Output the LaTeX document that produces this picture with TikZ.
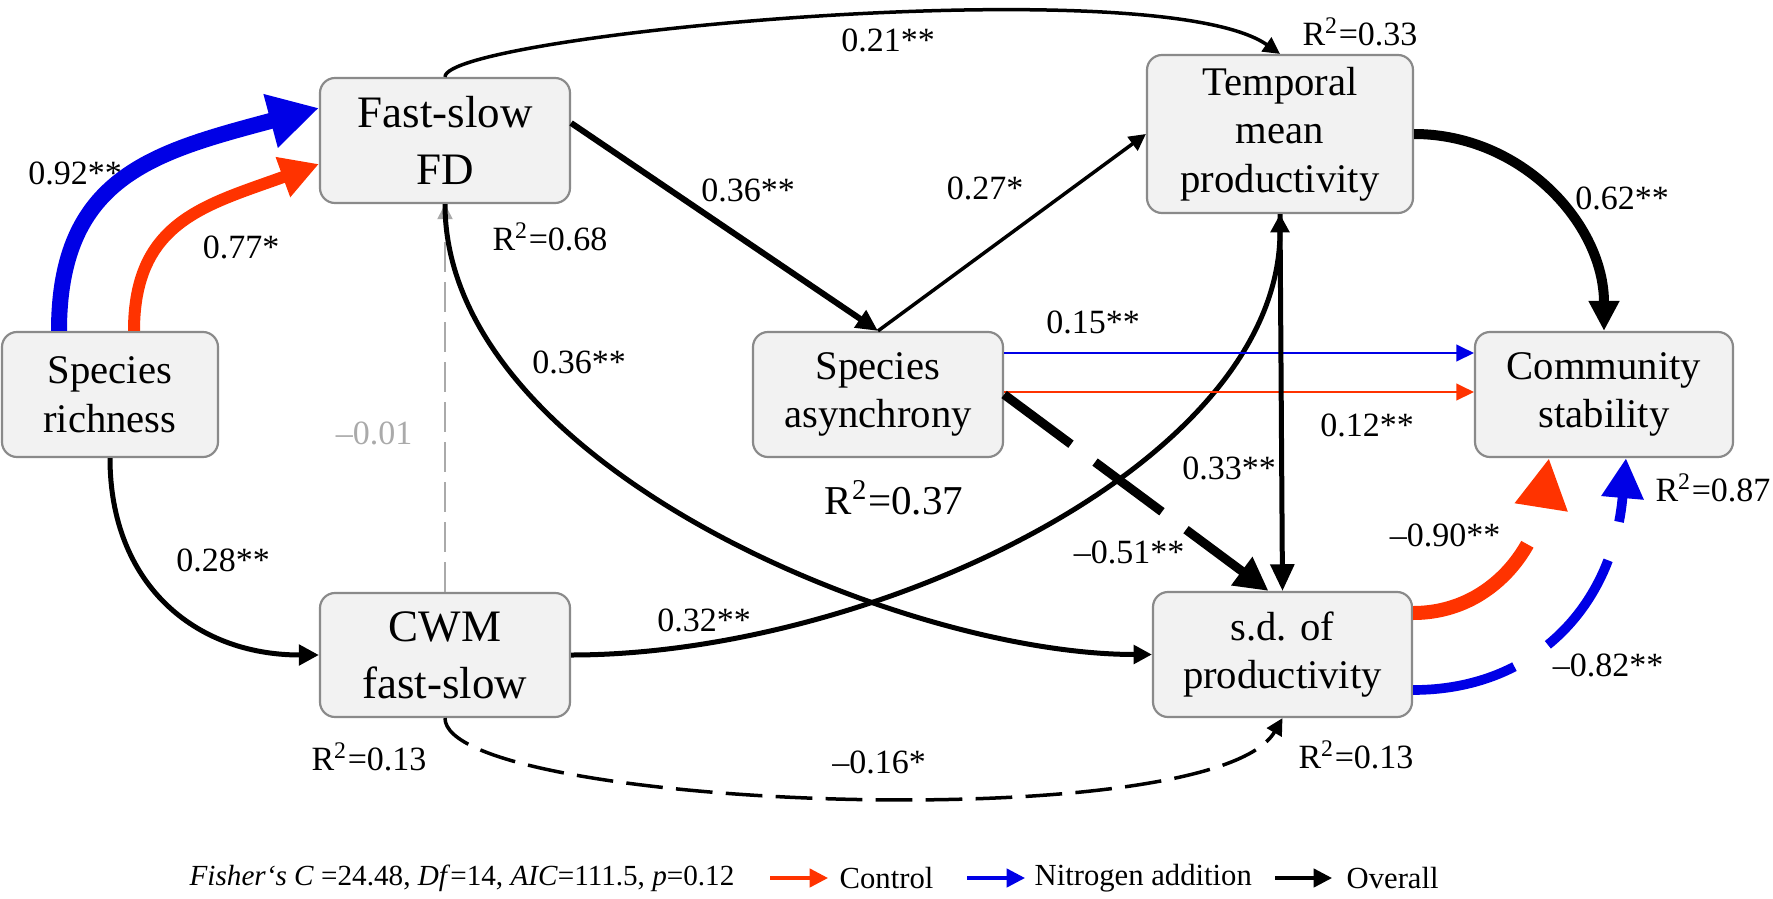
\documentclass[tikz,border=0pt]{standalone}
\usepackage{fontspec}
\setmainfont{Liberation Serif}
\usetikzlibrary{arrows.meta,calc}
\definecolor{ctrlred}{RGB}{255,51,0}
\definecolor{nblue}{RGB}{0,0,230}
\definecolor{boxfill}{RGB}{242,242,242}
\definecolor{boxline}{RGB}{138,138,138}
\definecolor{greyarrow}{RGB}{170,170,170}

\tikzset{
  box/.style={draw=boxline, fill=boxfill, line width=0.65pt, rounded corners=4.5pt,
    align=center, inner sep=0pt, minimum height=37.5pt, font=\fontsize{12.2}{14.6}\selectfont},
  bigbox/.style={box, font=\fontsize{13.5}{17}\selectfont},
  lab/.style={inner sep=0pt, font=\fontsize{10.2}{12}\selectfont},
  leg/.style={inner sep=0pt, anchor=west, font=\fontsize{9.2}{11}\selectfont},
}

\begin{document}
\begin{tikzpicture}[x=0.3pt, y=0.3pt]
\useasboundingbox (0,0) rectangle (1773,898);

% boxes
\node[box, minimum width=64.8pt] (sr) at (110,503.5) {Species\\richness};
\node[bigbox, minimum width=75pt] (fd) at (445,757.5) {Fast-slow\\FD};
\node[bigbox, minimum width=75pt, minimum height=37.2pt] (cwm) at (445,243) {CWM\\fast-slow};
\node[box, minimum width=75pt] (asy) at (878,503.5) {Species\\asynchrony};
\node[box, minimum width=79.8pt, minimum height=47.4pt] (tmp) at (1280,764) {Temporal\\mean\\productivity};
\node[box, minimum width=77.7pt] (sd) at (1282.5,243.5) {s.d. of\\productivity};
\node[box, minimum width=77.4pt] (cs) at (1604,503.5) {Community\\stability};

% richness paths
\draw[-{Triangle[length=15pt,width=15.6pt]}, color=nblue, line width=4.8pt] ($(sr.north)+(-51,0)$) .. controls +(0,155) and +(195:170) .. ($(fd.west)+(0,32.5)$);
\draw[-{Triangle[length=11.5pt,width=12pt]}, color=ctrlred, line width=3.6pt] ($(sr.north)+(24,0)$) .. controls +(0,110) and +(200:120) .. ($(fd.west)+(0,-23.5)$);
\draw[-{Triangle[length=6pt,width=6pt]}, line width=1.5pt] (sr.south) .. controls +(0,-125) and +(-125,0) .. (cwm.west);

% functional diversity
\draw[-{Triangle[length=4.5pt,width=4.5pt]}, color=greyarrow, line width=0.6pt, dash pattern=on 9pt off 3pt] (cwm.north) -- (fd.south);
\draw[-{Triangle[length=5pt,width=5pt]}, line width=1.05pt] (fd.north) .. controls +(0,42) and +(145:150) .. (tmp.north);
\draw[-{Triangle[length=6.5pt,width=6pt]}, line width=1.8pt] ($(fd.east)+(0,17.5)$) -- (asy.north);
\draw[-{Triangle[length=5.5pt,width=5.5pt]}, line width=1.5pt] (fd.south) .. controls +(0,-260) and +(-250,0) .. (sd.west);
\draw[-{Triangle[length=5.5pt,width=5.5pt]}, line width=1.5pt] (cwm.east) .. controls +(300,0) and +(0,-250) .. (tmp.south);
\draw[-{Triangle[length=5pt,width=5pt]}, line width=1.05pt, dash pattern=on 11pt off 4pt] (cwm.south) .. controls +(0,-90) and +(-120:140) .. (sd.south);

% asynchrony and productivity
\draw[-{Triangle[length=5pt,width=5pt]}, line width=1.05pt] (asy.north) -- (tmp.west);
\draw[-{Triangle[length=5.3pt,width=5pt]}, color=nblue, line width=0.8pt] ($(asy.east)+(0,41.5)$) -- ($(cs.west)+(0,41.5)$);
\draw[-{Triangle[length=5.3pt,width=5pt]}, color=ctrlred, line width=0.8pt] ($(asy.east)+(0,2.5)$) -- ($(cs.west)+(0,2.5)$);
\draw[-{Triangle[length=10pt,width=10pt]}, line width=2.7pt, dash pattern=on 25pt off 9pt] (asy.east) -- ($(sd.north)+(-14,0)$);
\draw[-{Triangle[length=8pt,width=7pt]}, line width=1.5pt] (tmp.south) -- (sd.north);
\draw[-{Triangle[length=9pt,width=8.7pt]}, line width=3pt] (tmp.east) to[out=0, in=90] (cs.north);

% stability
\draw[-{Triangle[length=15pt,width=15pt]}, color=ctrlred, line width=4.2pt, dash pattern=on 42pt off 12pt] ($(sd.east)+(0,41.5)$) .. controls +(75,0) and +(-99:95) .. ($(cs.south)+(-55,0)$);
\draw[-{Triangle[length=12pt,width=12pt]}, color=nblue, line width=2.9pt, dash pattern=on 31.5pt off 12pt] ($(sd.east)+(0,-35.5)$) .. controls +(120,0) and +(-95:150) .. ($(cs.south)+(22,0)$);

% coefficients
\node[lab] (l092) at (75,725) {0.92**};
\node[lab] (l077) at (241,651) {0.77*};
\node[lab] (l021) at (888,858) {0.21**};
\node[lab] (r033) at (1360,866) {R\textsuperscript{2}=0.33};
\node[lab] (l036a) at (748,708) {0.36**};
\node[lab] (l027) at (985,710) {0.27*};
\node[lab] (r068) at (550,661) {R\textsuperscript{2}=0.68};
\node[lab] (l062) at (1622,700) {0.62**};
\node[lab] (l015) at (1093,576) {0.15**};
\node[lab] (l012) at (1367,473) {0.12**};
\node[lab] (l036b) at (579,536) {0.36**};
\node[lab, text=greyarrow] (l001) at (374,465) {–0.01};
\node[lab, font=\fontsize{12.3}{14}\selectfont] (r037) at (894,400) {R\textsuperscript{2}=0.37};
\node[lab] (l033) at (1229,430) {0.33**};
\node[lab] (l051) at (1129,346) {–0.51**};
\node[lab] (l028) at (223,338) {0.28**};
\node[lab] (l032) at (704,278) {0.32**};
\node[lab] (l090) at (1445,363) {–0.90**};
\node[lab] (l082) at (1608,233) {–0.82**};
\node[lab] (r087) at (1713,410) {R\textsuperscript{2}=0.87};
\node[lab] (r013a) at (369,141) {R\textsuperscript{2}=0.13};
\node[lab] (r013b) at (1356,143) {R\textsuperscript{2}=0.13};
\node[lab] (l016) at (879,136) {–0.16*};

% legend
\node[leg, font=\fontsize{8.75}{11}\selectfont] (fit) at (189,20) {\textit{Fisher‘s C} =24.48, \textit{Df}=14, \textit{AIC}=111.5, \textit{p}=0.12};
\coordinate (k1a) at (770,20);
\coordinate (k1b) at (828,20);
\coordinate (k2a) at (967,20);
\coordinate (k2b) at (1025,20);
\coordinate (k3a) at (1275,20);
\coordinate (k3b) at (1332,20);
\draw[-{Triangle[length=5.5pt,width=5.5pt]}, color=ctrlred, line width=1pt] (k1a) -- (k1b);
\node[leg] (lctl) at (839,20) {Control};
\draw[-{Triangle[length=5.5pt,width=5.5pt]}, color=nblue, line width=1pt] (k2a) -- (k2b);
\node[leg] (lnit) at (1034,20) {Nitrogen addition};
\draw[-{Triangle[length=5.5pt,width=5.5pt]}, line width=1pt] (k3a) -- (k3b);
\node[leg] (lall) at (1346,20) {Overall};

\end{tikzpicture}
\end{document}
